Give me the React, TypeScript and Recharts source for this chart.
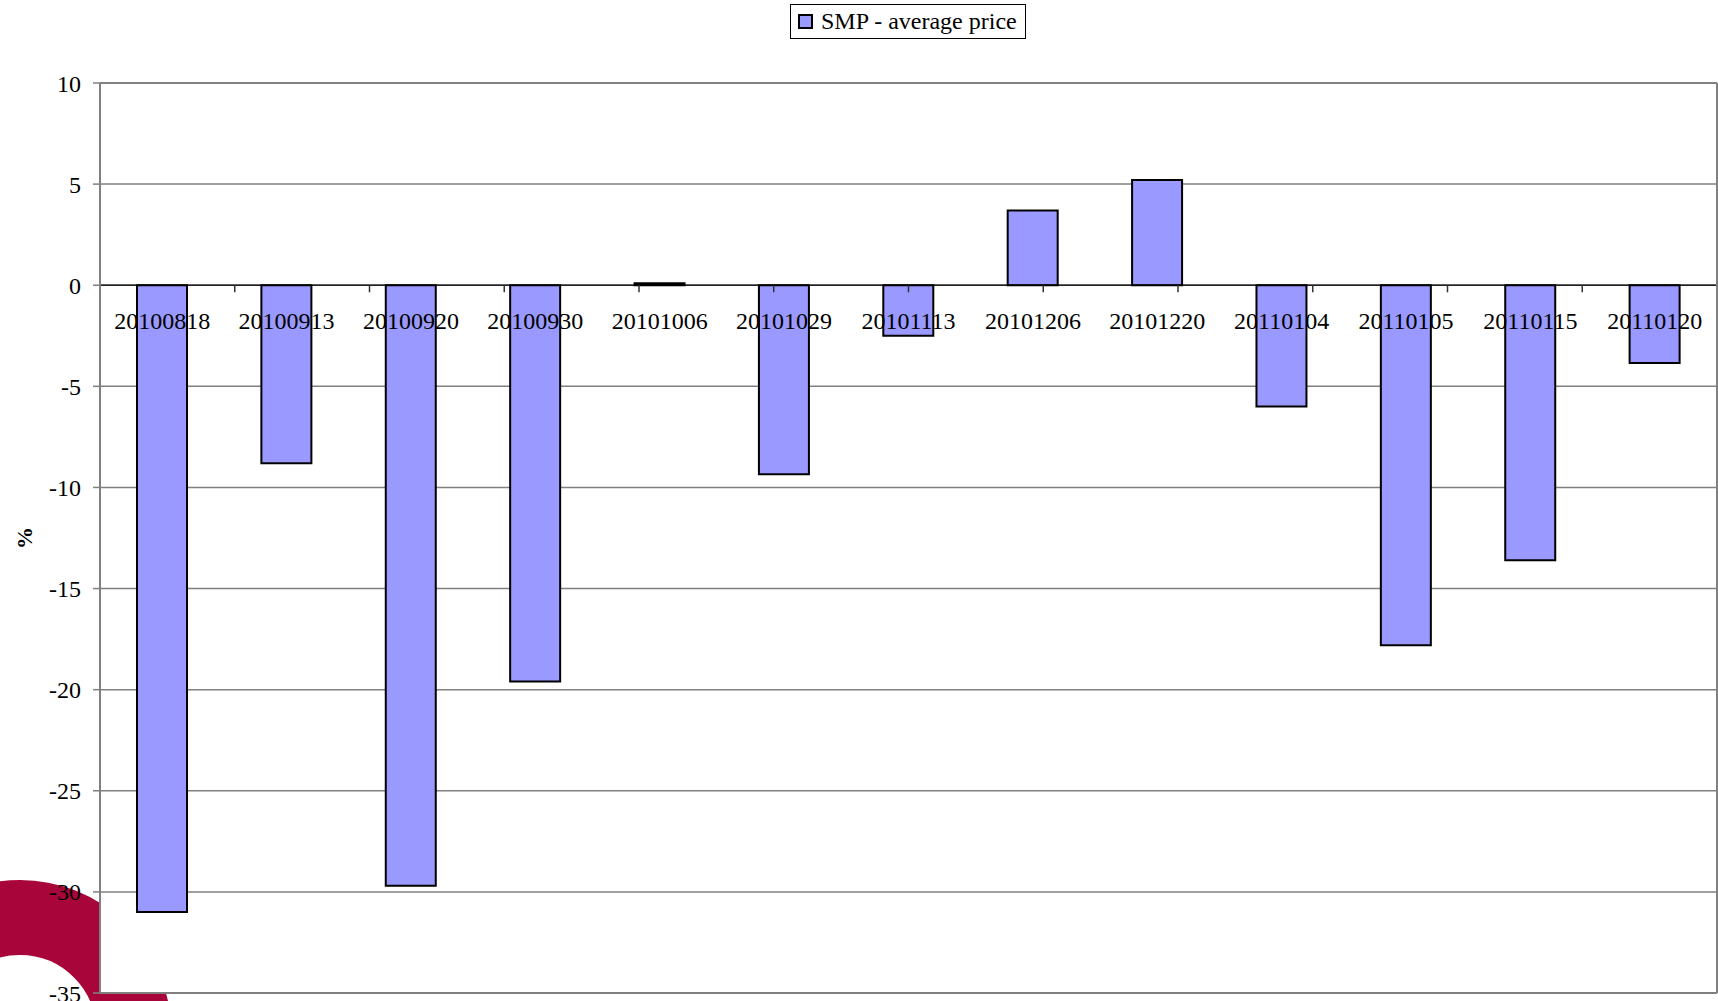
import {
  BarChart,
  Bar,
  XAxis,
  YAxis,
  CartesianGrid,
  ReferenceLine,
  ReferenceDot,
  Legend,
} from "recharts";

const DATES = [
  "20100818",
  "20100913",
  "20100920",
  "20100930",
  "20101006",
  "20101029",
  "20101113",
  "20101206",
  "20101220",
  "20110104",
  "20110105",
  "20110115",
  "20110120",
];

// change of SMP vs. average price, %
const SMP_CHANGE = [
  -31.0, -8.8, -29.7, -19.6, 0.1, -9.35, -2.5, 3.7, 5.2, -6.0, -17.8, -13.6, -3.85,
];

const Y_TICKS = [10, 5, 0, -5, -10, -15, -20, -25, -30, -35];
const SERIES_NAME = "SMP - average price";
const Y_LABEL = "%";

const FONT = '"Liberation Serif", "Times New Roman", serif';
const GRID = "#808080";
const BAR_FILL = "#9999FF";

const chartData = DATES.map((date, i) => ({ date, value: SMP_CHANGE[i] }));
// category boundaries (tick marks on the zero line)
const boundaries = DATES.slice(1).map((_, i) => i + 1);

const renderLegend = (props: any) => {
  const item = props.payload?.[0];
  return (
    <div
      style={{
        display: "flex",
        alignItems: "center",
        height: 33,
        padding: "0 8px 0 7px",
        border: "1px solid #000",
        background: "#fff",
        fontFamily: FONT,
        fontSize: 24,
        color: "#000",
        whiteSpace: "nowrap",
      }}
    >
      <span
        style={{
          display: "inline-block",
          width: 11,
          height: 11,
          border: "2px solid #000",
          background: item?.color ?? BAR_FILL,
          marginRight: 8,
        }}
      />
      {item?.value ?? SERIES_NAME}
    </div>
  );
};

const renderYLabel = (props: any) => {
  const vb = props.viewBox;
  const x = vb.x + 24;
  const y = vb.y + vb.height / 2;
  return (
    <text
      x={x}
      y={y}
      transform={`rotate(-90, ${x}, ${y})`}
      textAnchor="middle"
      dominantBaseline="central"
      fontFamily={FONT}
      fontWeight="bold"
      fontSize={22}
      fill="#000"
    >
      {Y_LABEL}
    </text>
  );
};

export default function App() {
  return (
    <div
      style={{
        position: "fixed",
        left: 0,
        top: 0,
        width: 1718,
        height: 1001,
        overflow: "hidden",
        background: "#fff",
      }}
    >
      {/* decorative logo ring behind the chart */}
      <div
        style={{
          position: "absolute",
          left: -131,
          top: 880,
          width: 302,
          height: 302,
          boxSizing: "border-box",
          border: "75px solid #A8063A",
          borderRadius: "50%",
        }}
      />
      <div style={{ position: "absolute", left: 0, top: 0 }}>
        <BarChart
          width={1718}
          height={1001}
          data={chartData}
          margin={{ top: 83, right: 0, bottom: 8, left: 0 }}
        >
          <CartesianGrid
            vertical={false}
            stroke={GRID}
            strokeWidth={1.5}
            fill="#fff"
            fillOpacity={1}
          />
          <XAxis dataKey="date" hide />
          <XAxis
            xAxisId="b"
            type="number"
            domain={[0, DATES.length]}
            hide
          />
          <YAxis
            type="number"
            domain={[-35, 10]}
            ticks={Y_TICKS}
            interval={0}
            width={100}
            axisLine={{ stroke: GRID, strokeWidth: 2 }}
            tickLine={{ stroke: GRID, strokeWidth: 1.5 }}
            tickSize={7}
            tickMargin={12}
            tick={{ fill: "#000", fontSize: 24, fontFamily: FONT }}
            label={{ value: Y_LABEL, content: renderYLabel }}
          />
          <YAxis
            yAxisId="r"
            orientation="right"
            domain={[-35, 10]}
            width={1}
            tick={false}
            tickLine={false}
            axisLine={{ stroke: GRID, strokeWidth: 2 }}
          />
          <ReferenceLine y={10} stroke={GRID} strokeWidth={2} />
          <ReferenceLine y={-35} stroke={GRID} strokeWidth={2} />
          {DATES.map((d) => (
            <ReferenceDot
              key={d}
              x={d}
              y={0}
              r={0}
              fill="none"
              stroke="none"
              label={{
                value: d,
                position: "bottom",
                offset: 27,
                fill: "#000",
                fontSize: 24,
                fontFamily: FONT,
              }}
            />
          ))}
          <Bar
            dataKey="value"
            name={SERIES_NAME}
            fill={BAR_FILL}
            stroke="#000"
            strokeWidth={2}
            barSize={50}
            isAnimationActive={false}
          />
          <ReferenceLine y={0} stroke="#000" strokeWidth={1.2} />
          {boundaries.map((k) => (
            <ReferenceLine
              key={k}
              xAxisId="b"
              stroke="#333"
              strokeWidth={1.5}
              segment={[
                { x: k, y: 0 },
                { x: k, y: -0.35 },
              ]}
            />
          ))}
          <Legend
            layout="horizontal"
            verticalAlign="middle"
            align="center"
            wrapperStyle={{ top: 4, left: 790, width: "auto", height: "auto" }}
            content={renderLegend}
          />
        </BarChart>
      </div>
    </div>
  );
}
